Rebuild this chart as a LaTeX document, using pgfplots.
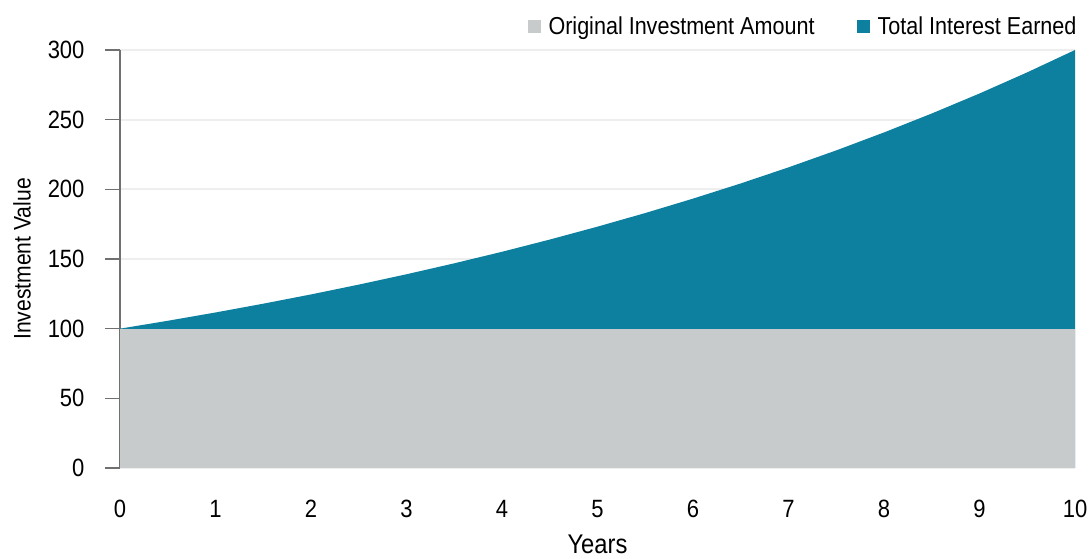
\documentclass[border=0pt]{standalone}
\usepackage{fontspec}
\setmainfont{Liberation Sans}[FakeStretch=0.88]
\usepackage{pgfplots}
\pgfplotsset{compat=1.18}
\definecolor{teal1}{HTML}{0E809F}
\definecolor{gray1}{HTML}{C8CBCC}
\definecolor{gridc}{HTML}{EEEEEE}
\definecolor{axc}{HTML}{707070}
\begin{document}
\begin{tikzpicture}[x=1pt,y=1pt]
\useasboundingbox (0,0) rectangle (1090,559);
\begin{axis}[
  at={(120pt,91pt)}, anchor=south west,
  scale only axis, width=955pt, height=418pt,
  xmin=0, xmax=10, ymin=0, ymax=300,
  xtick={0,1,...,10}, ytick={0,50,...,300},
  separate axis lines,
  axis x line*=bottom, axis y line*=left,
  x axis line style={draw=none},
  y axis line style={axc, line width=1.5pt, -},
  xtick style={draw=none},
  ytick style={axc, line width=1.5pt},
  tick align=outside, major tick length=15pt,
  ymajorgrids, grid style={gridc, line width=2pt},
  /pgf/number format/assume math mode=true,
  font=\fontsize{25}{29}\selectfont,
  xticklabel style={anchor=center, yshift=-26pt},
  yticklabel style={anchor=east, xshift=-17pt},
  xlabel={Years}, ylabel={Investment Value},
  xlabel style={at={(axis description cs:0.5,-0.182)}, anchor=center, font=\fontsize{27}{30}\selectfont},
  ylabel style={at={(axis description cs:-0.1026,0.5)}, anchor=center, rotate=0, font=\fontsize{24}{28}\selectfont},
  legend columns=2,
  legend style={draw=none, fill=none, at={(axis description cs:1.007,1.057)}, anchor=east,
    font=\fontsize{24.5}{28}\selectfont,
    /tikz/every odd column/.style={column sep=6pt},
    /tikz/every even column/.style={column sep=40pt}},
  legend image code/.code={\fill[#1] (0pt,-6.5pt) rectangle (13pt,6.5pt);},
]
\addplot[fill=teal1, draw=none, forget plot] coordinates {
(0,100) (0.5,105.65) (1,111.61) (1.5,117.92) (2,124.57) (2.5,131.61)
(3,139.04) (3.5,146.89) (4,155.18) (4.5,163.94) (5,173.21) (5.5,182.98)
(6,193.32) (6.5,204.23) (7,215.77) (7.5,227.95) (8,240.82) (8.5,254.42)
(9,268.78) (9.5,283.96) (10,300)
} \closedcycle;
\addplot[fill=gray1, draw=none, forget plot] coordinates {(0,100) (10,100)} \closedcycle;
\addlegendimage{fill=gray1, draw=none}
\addlegendentry{Original Investment Amount}
\addlegendimage{fill=teal1, draw=none}
\addlegendentry{Total Interest Earned}
\end{axis}
\end{tikzpicture}
\end{document}
